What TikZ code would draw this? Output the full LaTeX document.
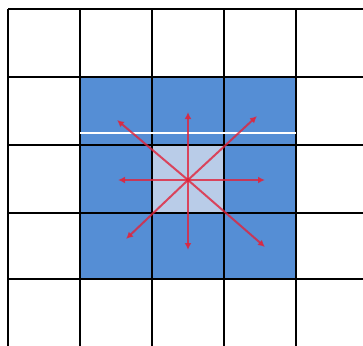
\documentclass[tikz,border=0pt]{standalone}
\usetikzlibrary{arrows.meta}
\definecolor{cellblue}{HTML}{558ED5}
\definecolor{celllight}{HTML}{B9CCE8}
\definecolor{arrowred}{HTML}{E2233A}
\tikzset{
  gridline/.style={black, line width=1.6pt},
  ray/.style={arrowred, opacity=0.8, line width=2pt, -{Latex[length=7pt,width=7pt]}}
}
\begin{document}
\begin{tikzpicture}[x=1pt,y=-1pt]
\useasboundingbox (0,0) rectangle (363,345);
\fill[white] (0,0) rectangle (363,345);
\fill[cellblue] (80,77) rectangle (296,279);
\fill[celllight] (152,145) rectangle (224,213);
\foreach \x in {8,80,152,224,296} \draw[gridline] (\x,9) -- (\x,346);
\foreach \y in {9,77,145,213,279} \draw[gridline] (8,\y) -- (364,\y);
\draw[white, line width=1.4pt] (80,133) -- (296,133);
\coordinate (c) at (188,180);
\coordinate (n) at (188,112);
\coordinate (s) at (188,250);
\coordinate (w) at (118,180);
\coordinate (e) at (265,180);
\coordinate (nw) at (117,120);
\coordinate (ne) at (257,116);
\coordinate (sw) at (126,239);
\coordinate (se) at (265,247);
\foreach \t in {n,s,w,e,nw,ne,sw,se} \draw[ray] (c) -- (\t);
\fill[arrowred] (c) circle (2pt);
\end{tikzpicture}
\end{document}
